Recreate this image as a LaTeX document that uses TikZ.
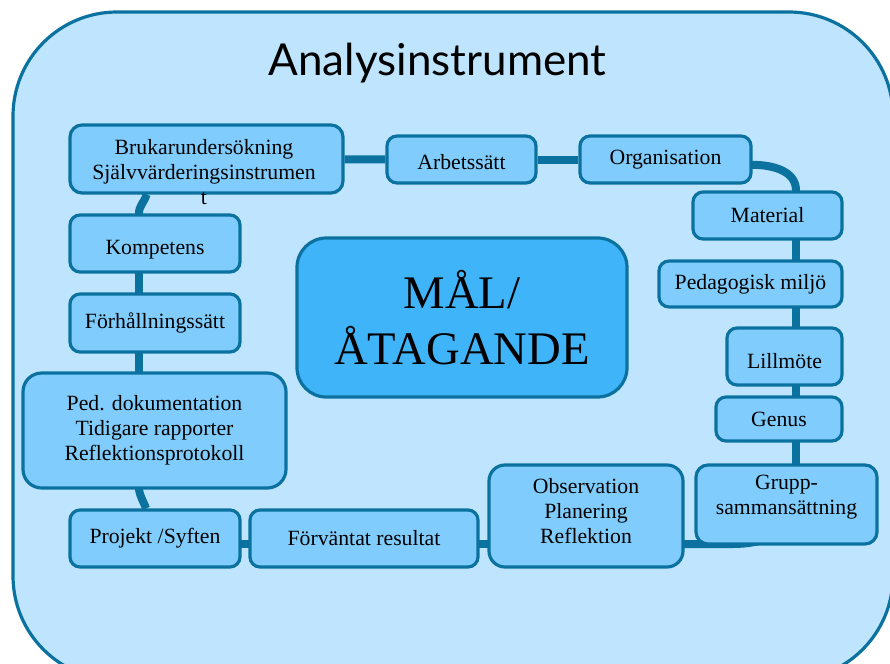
\documentclass[tikz,border=0pt]{standalone}
\usepackage{fontspec}
\setmainfont{Liberation Serif}
\newfontfamily\titlefont{Lato}
\usetikzlibrary{calc}
\definecolor{frameblue}{RGB}{190,229,253}
\definecolor{boxblue}{RGB}{128,205,253}
\definecolor{coreblue}{RGB}{63,180,249}
\definecolor{edgeblue}{RGB}{11,114,160}
\pgfdeclarelayer{framelayer}
\pgfdeclarelayer{linklayer}
\pgfsetlayers{framelayer,linklayer,main}
\newcommand\lowertext[2]{\raisebox{-#1}[\height][\depth]{#2}}
\begin{document}
\begin{tikzpicture}[x=0.75pt,y=-0.75pt,
  box/.style={draw=edgeblue, fill=boxblue, line width=2.4pt, rounded corners=7.5pt,
    inner sep=0pt, align=center, font=\fontsize{16.3pt}{18.75pt}\selectfont},
  txt/.style={inner sep=0pt, align=center, font=\fontsize{16.3pt}{18.75pt}\selectfont},
  link/.style={draw=edgeblue, line width=6pt}]
\useasboundingbox (0,0) rectangle (890,664);
\begin{pgfonlayer}{framelayer}
\fill[white] (0,0) rectangle (890,664);
\node[draw=edgeblue, fill=frameblue, line width=2.4pt, rounded corners=78pt,
  minimum width=660pt, minimum height=501pt, inner sep=0pt] (frame) at (453,346) {};
\end{pgfonlayer}

\node[anchor=base, inner sep=0pt, font=\titlefont\fontsize{33pt}{40pt}\selectfont] (title) at (437.5,75) {Analysinstrument};

% left column / top
\node[box, minimum width=204.75pt, minimum height=51pt, rounded corners=9pt] (bruk) at (206.5,159) {};
\node[txt] (brukt) at (204,172) {Brukarundersökning\\Självvärderingsinstrumen\\t};
\node[box, minimum width=111.75pt, minimum height=35.25pt] (arb) at (461.5,159.5) {\lowertext{2pt}{Arbetssätt}};
\node[box, minimum width=128.25pt, minimum height=35.25pt] (org) at (665.5,159.5) {Organisation};
% right column
\node[box, minimum width=111.75pt, minimum height=35.25pt] (mat) at (767.5,215.5) {Material};
\node[box, minimum width=137.25pt, minimum height=34.5pt] (ped) at (750.5,284) {Pedagogisk miljö};
\node[box, minimum width=86.25pt, minimum height=42.75pt] (lil) at (784.5,356.5) {\lowertext{3.5pt}{Lillmöte}};
\node[box, minimum width=94.5pt, minimum height=33pt] (gen) at (779,419) {Genus};
\node[box, minimum width=135.75pt, minimum height=59.25pt, rounded corners=9pt] (grp) at (786.5,504.5) {};
\node[txt] (grpt) at (786.5,497.5) {Grupp-\\sammansättning};
% bottom row
\node[box, minimum width=145.5pt, minimum height=76.5pt, rounded corners=12pt] (obs) at (586,516) {};
\node[txt] (obst) at (586,511) {Observation\\Planering\\Reflektion};
\node[box, minimum width=171pt, minimum height=42.75pt] (fv) at (364,538.5) {Förväntat resultat};
\node[box, minimum width=127.5pt, minimum height=42.75pt] (proj) at (155,538.5) {Projekt /Syften};
% left column
\node[box, minimum width=197.25pt, minimum height=86.25pt, rounded corners=14pt] (dok) at (154.5,430.5)
  {Ped. dokumentation\\Tidigare rapporter\\Reflektionsprotokoll};
\node[box, minimum width=127.5pt, minimum height=43.5pt] (forh) at (155,323) {Förhållningssätt};
\node[box, minimum width=127.5pt, minimum height=42.75pt] (komp) at (155,243.5) {\lowertext{4.5pt}{Kompetens}};
% centre
\node[box, fill=coreblue, rounded corners=22pt, minimum width=247.5pt, minimum height=119.25pt,
  font=\fontsize{35pt}{42pt}\selectfont] (mal) at (462,317.5) {MÅL/\\ÅTAGANDE};

\begin{pgfonlayer}{linklayer}
\coordinate (lline) at (139,0);
\coordinate (rline) at (796,0);
\coordinate (bline) at (0,544);
\draw[link] (bruk) -- (arb);
\draw[link] (arb) -- (org);
\draw[link] ([xshift=-10pt,yshift=-4pt]org.east) -- ([yshift=-4pt]org.east) to[out=0,in=90] (mat.north -| rline) -- (mat -| rline);
\draw[link] (mat -| rline) -- (ped -| rline);
\draw[link] (ped -| rline) -- (lil -| rline);
\draw[link] (lil -| rline) -- (gen -| rline);
\draw[link] (gen -| rline) -- (grp -| rline);
\draw[link] (obs |- bline) -- ([xshift=-40pt]grp.south |- bline) to[out=0,in=-90] (grp -| rline);
\draw[link] (fv |- bline) -- (obs |- bline);
\draw[link] (proj |- bline) -- (fv |- bline);
\draw[link] (dok -| lline) -- (dok.south -| lline) to[out=-80,in=110] ([xshift=-6.75pt]proj.north) -- (proj);
\draw[link] (dok -| lline) -- (forh -| lline);
\draw[link] (forh -| lline) -- (komp -| lline);
\draw[link] (komp -| lline) -- (komp.north -| lline) to[out=90,in=-105] ([xshift=-45pt]bruk.south) -- (bruk);
\end{pgfonlayer}
\end{tikzpicture}
\end{document}
